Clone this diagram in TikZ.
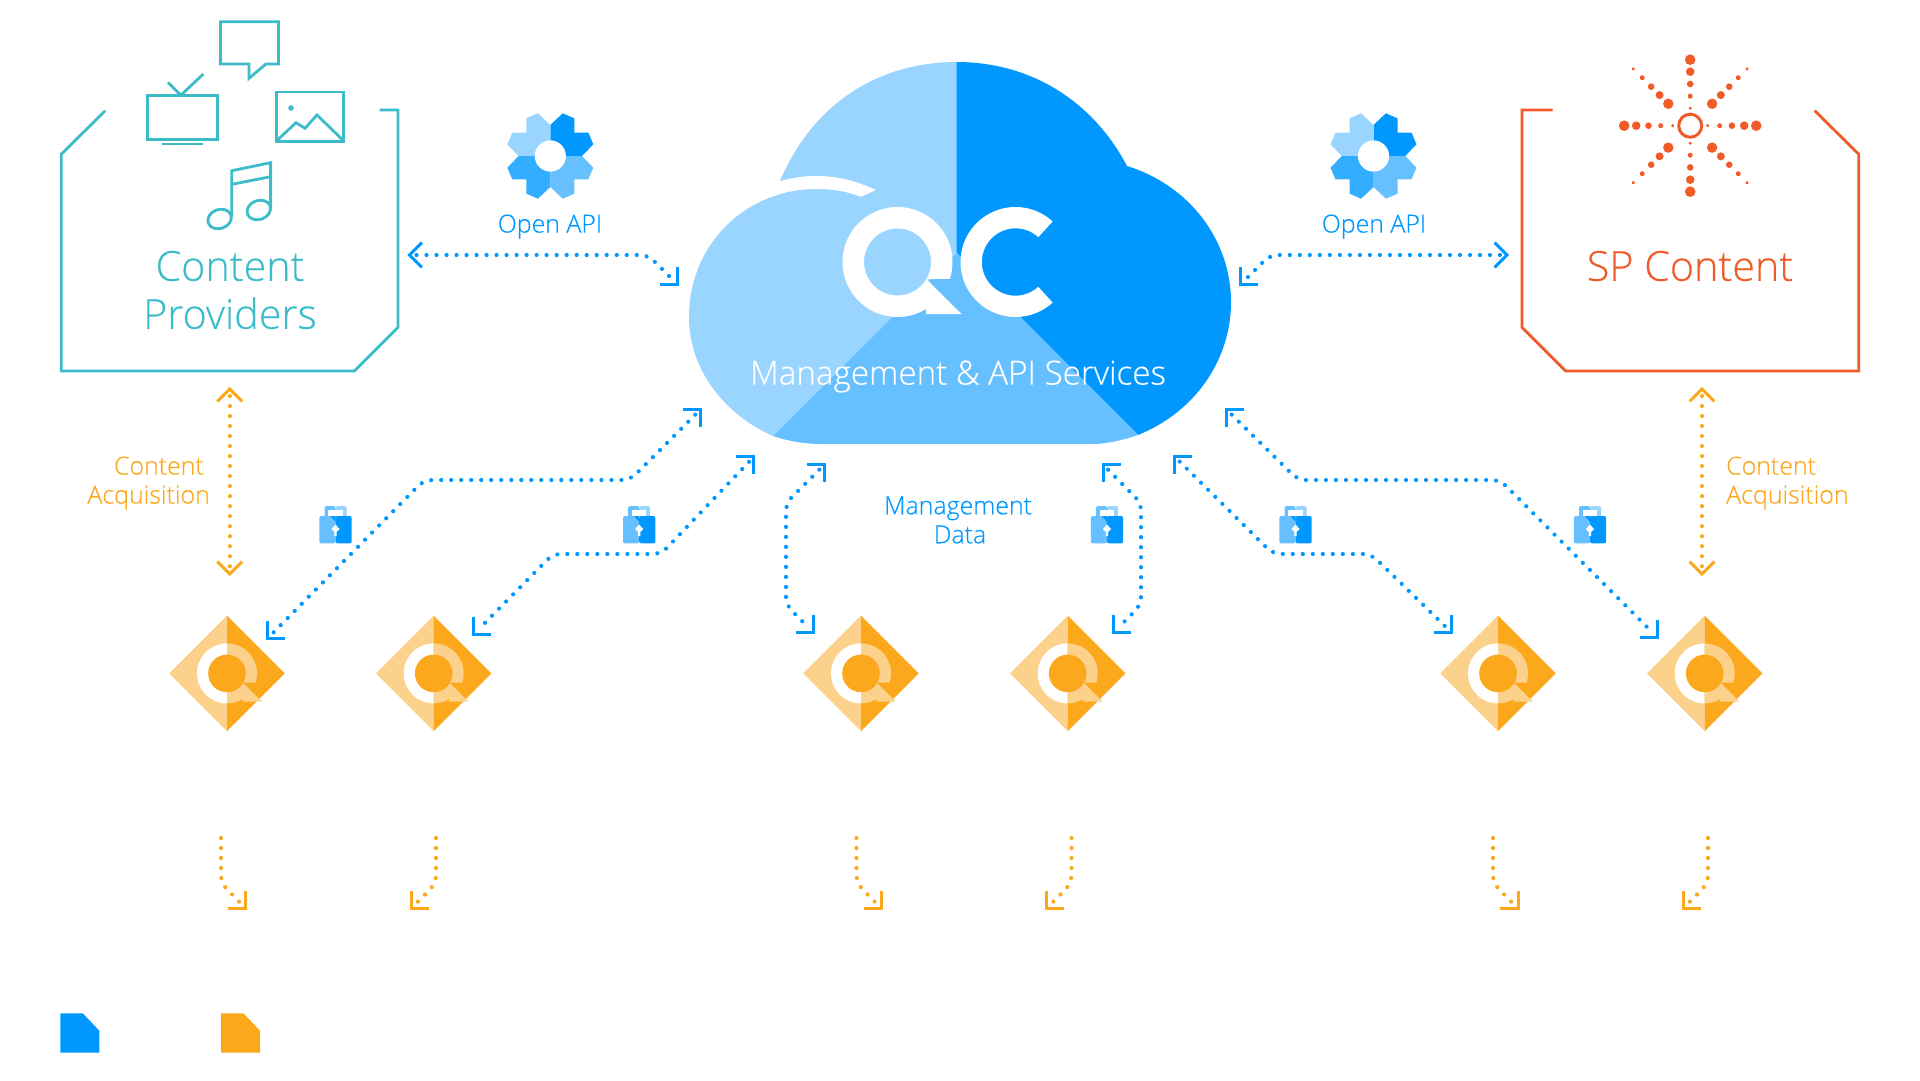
\documentclass[tikz,border=0pt]{standalone}
\usepackage{fontspec}
\setmainfont[RawFeature={embolden=0.3}]{Open Sans Light}
\usetikzlibrary{calc}
\definecolor{teal1}{HTML}{3BBCC8}
\definecolor{red1}{HTML}{F15A29}
\definecolor{or1}{HTML}{FBA81C}
\definecolor{or2}{HTML}{FCD18B}
\definecolor{bl1}{HTML}{0098FF}
\definecolor{bl2}{HTML}{33ADFF}
\definecolor{bl3}{HTML}{66BFFF}
\definecolor{bl4}{HTML}{99D5FF}
\tikzset{
  iconline/.style={draw=teal1,line width=2.8pt,miter limit=10},
  redline/.style={draw=red1,line width=2.8pt},
  bluedots/.style={draw=bl1,line width=4.2pt,line cap=round,dash pattern=on 0.01pt off 10pt,rounded corners=8pt,shorten <=8pt,shorten >=8pt},
  ordots/.style={draw=or1,line width=4.2pt,line cap=round,dash pattern=on 0.01pt off 10pt,rounded corners=8pt,shorten <=8pt,shorten >=8pt},
  tipline/.style={line width=3pt,miter limit=10},
  lbl/.style={inner sep=0pt,align=center},
  bigtxt/.style={lbl,font=\fontsize{41.3}{48}\selectfont},
  medtxt/.style={lbl,font=\fontsize{24.9}{29}\selectfont},
}
\newcommand{\arrowtip}[3]{\begin{scope}[shift={(#1)},rotate=#2]\draw[tipline,#3] (-13.4,-12.4) -- (-1,0) -- (-13.4,12.4);\end{scope}}
\newcommand{\qpath}{plot[domain=58.8:378,samples=90] ({55*cos(\x)},{55*sin(\x)}) -- (28.9,17) -- (64,52) -- (28.5,52) -- cycle}
\newcommand{\gearsector}[2]{\fill[#2,xscale=#1] (0,0) -- (0,-31) -- (12.4,-42.7) -- (24,-37.7) -- (24,-23.3) -- (38,-23.3) -- (43,-11.7) -- (31.7,0) -- cycle;}
\newcommand{\gearicon}[2]{\begin{scope}[shift={(#1,#2)}]
  \gearsector{1}{bl1}\gearsector{-1}{bl4}
  \begin{scope}[yscale=-1]\gearsector{1}{bl3}\gearsector{-1}{bl2}\end{scope}
  \fill[white] (0,0) circle[radius=15.6];
\end{scope}}
\newcommand{\diamondicon}[1]{\begin{scope}[shift={(#1,673.4)}]
  \fill[or2] (0,-57.7) -- (-57.7,0) -- (0,57.7) -- cycle;
  \fill[or1] (0,-57.7) -- (57.7,0) -- (0,57.7) -- cycle;
  \begin{scope}\clip (-60,-60) rectangle (0,60);
    \fill[white,scale=0.545] \qpath;\end{scope}
  \begin{scope}\clip (0,-60) rectangle (60,60);
    \fill[or2,scale=0.545] \qpath;\end{scope}
  \fill[or1] (0,0) circle[radius=18.8];
\end{scope}}
\newcommand{\lockicon}[1]{\begin{scope}[shift={(#1,516)}]
  \fill[bl3,rounded corners=2pt] (-11,2) -- (-11,-10) -- (0,-10) -- (0,2) -- cycle;
  \fill[bl4,rounded corners=2pt] (0,2) -- (0,-10) -- (11,-10) -- (11,2) -- cycle;
  \fill[white] (-7.2,-6) rectangle (7.2,0);
  \fill[bl3,rounded corners=2pt] (0,0) -- (-16.2,0) -- (-16.2,27.3) -- (0,27.3) -- cycle;
  \fill[bl1,rounded corners=2pt] (0,0) -- (16.2,0) -- (16.2,27.3) -- (0,27.3) -- cycle;
  \fill[bl1] (-5,0) -- (0,0) -- (0,6) -- cycle;
  \fill[white] (0,8.5) -- (4,13) -- (1.2,16) -- (1.2,20) -- (-1.2,20) -- (-1.2,16) -- (-4,13) -- cycle;
\end{scope}}
\begin{document}
\begin{tikzpicture}[x=1pt,y=-1pt]
\useasboundingbox (0,0) rectangle (1920,1081);
% Cloud
\fill[bl4] (957,62) .. controls (877,62) and (812,105) .. (780,181)
  .. controls (812,172) and (845,175) .. (876,190) -- (861,197)
  .. controls (848,192) and (835,189) .. (817,189)
  .. controls (745,189) and (689,245) .. (689,317)
  .. controls (689,370) and (725,415) .. (773,436) -- (957,253) -- cycle;
\fill[bl1] (956.5,62) .. controls (1035,62) and (1095,105) .. (1127,166)
  .. controls (1189,185) and (1231,240) .. (1231,302)
  .. controls (1231,360) and (1195,412) .. (1138,435) -- (956.5,253) -- cycle;
\fill[bl3] (957,253) -- (773,436) .. controls (788,441) and (805,444) .. (821,444)
  -- (1093,444) .. controls (1105,444) and (1120,441) .. (1138,435) -- cycle;
% QC logo
\fill[white,even odd rule,shift={(897.5,262)}] \qpath (0,0) circle[radius=33.5];
\fill[white,shift={(1015.5,262)}] plot[domain=47.5:312.5,samples=70] ({55*cos(\x)},{55*sin(\x)})
  -- plot[domain=312.5:47.5,samples=70] ({33.7*cos(\x)},{33.7*sin(\x)}) -- cycle;
\node[lbl,text=white,font=\fontsize{33.2}{38}\selectfont] (cloudtxt) at (958,376.5) {Management \& API Services};
% Content providers
\draw[iconline] (105.3,110.7) -- (61.2,154.3) -- (61.2,371) -- (354.3,371) -- (398,327.3) -- (398,110) -- (379.6,110);
\draw[iconline] (220.4,21.7) -- (278.4,21.7) -- (278.4,64) -- (266,64) -- (249,78.3) -- (249,64) -- (220.4,64) -- cycle;
\draw[iconline] (147.8,95.3) rectangle (217.6,139.3);
\draw[iconline] (162.4,144) -- (202.9,144);
\draw[iconline] (168,82.3) -- (180.8,95.3) -- (203.3,74);
\draw[iconline] (276.3,92) rectangle (343.3,141.7);
\fill[teal1] (291,108) circle[radius=2.8];
\draw[iconline] (277.5,140) -- (296,122.7) -- (305,128.3) -- (317,115) -- (342,139.3);
\draw[iconline] (231.8,216.7) -- (231.8,170.7) -- (270.6,162.7) -- (270.6,208);
\draw[iconline] (231.8,184.3) -- (270.6,176.7);
\draw[iconline] (219.6,219) ellipse[x radius=12,y radius=9.5,rotate=20];
\draw[iconline] (258.8,210) ellipse[x radius=12,y radius=9.5,rotate=20];
\node[bigtxt,text=teal1] (cptxt) at (230,290) {Content\\Providers};
% SP content
\draw[redline] (1552.6,110) -- (1522,110) -- (1522,327.3) -- (1565.7,371) -- (1858.8,371) -- (1858.8,154.3) -- (1814.7,110.7);
\begin{scope}[shift={(1690.2,125.7)}]
  \draw[draw=red1,line width=3pt] (0,0) circle[radius=11.5];
  \foreach \a in {0,90,180,270}{
    \begin{scope}[rotate=\a]
      \fill[red1] (17.5,0) circle[radius=1.7] (29.5,0) circle[radius=2.5] (41.7,0) circle[radius=3.3] (54,0) circle[radius=4.3] (66,0) circle[radius=5.3];
    \end{scope}}
  \foreach \a in {45,135,225,315}{
    \begin{scope}[rotate=\a]
      \fill[red1] (31,0) circle[radius=5.2] (43.3,0) circle[radius=4] (55.2,0) circle[radius=3.3] (67.9,0) circle[radius=2.5] (80.4,0) circle[radius=1.7];
    \end{scope}}
\end{scope}
\node[bigtxt,text=red1] (sptxt) at (1690,266) {SP Content};
% gears
\gearicon{550.3}{156}
\gearicon{1373.5}{156}
\node[medtxt,text=bl1] (api1) at (550,226.5) {Open API};
\node[medtxt,text=bl1] (api2) at (1374,226.5) {Open API};
% coordinates for connectors
\coordinate (a1) at (408.5,255); \coordinate (a2) at (678,285); \coordinate (a3) at (1508,255); \coordinate (a4) at (1240,285);
\coordinate (b1) at (701,409); \coordinate (b2) at (267,639);
\coordinate (c1) at (754.6,456); \coordinate (c2) at (473,635);
\coordinate (d1) at (825,464); \coordinate (d2) at (814,633);
\coordinate (e1) at (1102.5,464); \coordinate (e2) at (1113,633);
\coordinate (f1) at (1174,456); \coordinate (f2) at (1452,633);
\coordinate (g1) at (1226,409); \coordinate (g2) at (1658,638);
\coordinate (o1) at (229.7,388); \coordinate (o2) at (229.7,575);
\coordinate (o3) at (1702,388); \coordinate (o4) at (1702,575);
% blue dotted connectors
\draw[bluedots] (a1) -- (648,255) -- (a2);
\draw[bluedots] (a3) -- (1270,255) -- (a4);
\draw[bluedots] (b1) -- (630,480) -- (424,480) -- (b2);
\draw[bluedots] (c1) -- (661,554) -- (553,554) -- (c2);
\draw[bluedots] (d1) -- (786,503) -- (786,605) -- (d2);
\draw[bluedots] (e1) -- (1141,503) -- (1141,605) -- (e2);
\draw[bluedots] (f1) -- (1273,554) -- (1371,554) -- (f2);
\draw[bluedots] (g1) -- (1298,480) -- (1500,480) -- (g2);
\foreach \p/\q in {a1/180,a2/-45,a3/0,a4/225,b1/45,b2/225,c1/45,c2/225,d1/45,d2/-45,e1/135,e2/225,f1/135,f2/-45,g1/135,g2/-45}{\arrowtip{\p}{\q}{draw=bl1}}
% orange connectors
\draw[ordots] (o1) -- (o2);
\draw[ordots] (o3) -- (o4);
\foreach \p/\q in {o1/90,o2/270,o3/90,o4/270}{\arrowtip{\p}{\q}{draw=or1}}
\foreach \n/\x/\t/\s/\a in {h1/221/246.7/1/-45,h2/436/410.3/-1/225,h3/856.5/882.2/1/-45,h4/1071.5/1045.8/-1/225,h5/1493/1518.7/1/-45,h6/1708/1682.3/-1/225}{
  \coordinate (\n s) at (\x,838);
  \coordinate (\n t) at (\t,909.3);
  \draw[ordots,shorten <=0pt] (\n s) -- (\x,883.3) -- (\n t);
  \arrowtip{\n t}{\a}{draw=or1}
}
% labels
\node[medtxt,text=bl1] (mgmt) at (958,520) {Management\\\hspace*{4pt}Data};
\node[medtxt,text=or1,align=right,anchor=east] (ca1) at (210,483) {Content\hspace*{6pt}\\Acquisition};
\node[medtxt,text=or1,align=left,anchor=west] (ca2) at (1726,483) {Content\\Acquisition};
% diamonds
\foreach \x in {227,433.7,861,1067.7,1498,1704.7}{\diamondicon{\x}}
% locks
\foreach \x in {335.5,639.2,1107,1295.5,1590}{\lockicon{\x}}
% legend
\fill[bl1] (60.3,1013.3) -- (82.7,1013.3) -- (99.3,1030.7) -- (99.3,1052.7) -- (60.3,1052.7) -- cycle;
\fill[or1] (221,1013.3) -- (243.4,1013.3) -- (260,1030.7) -- (260,1052.7) -- (221,1052.7) -- cycle;
\end{tikzpicture}
\end{document}
